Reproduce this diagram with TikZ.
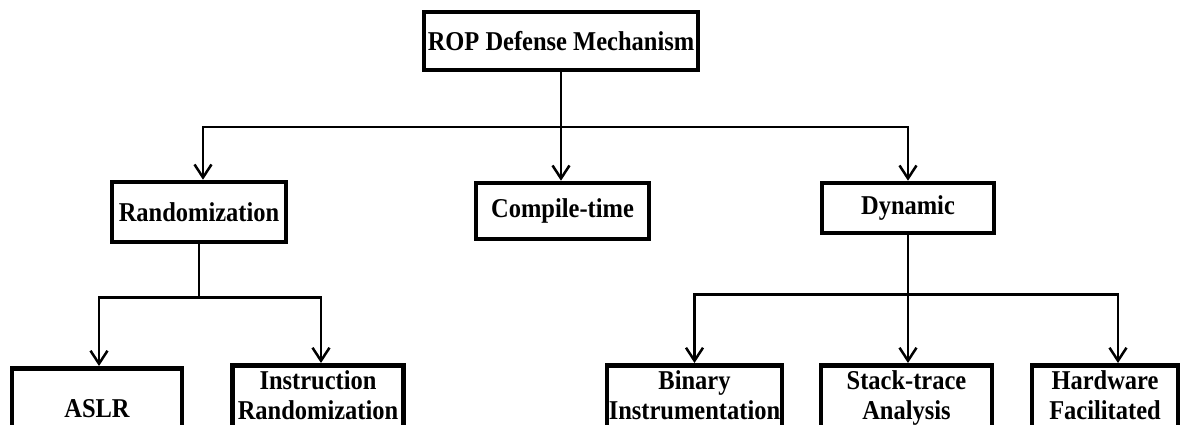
\documentclass[tikz,border=0pt]{standalone}
\usepackage{fontspec}
\setmainfont{Liberation Serif}[FakeStretch=0.9]
\usetikzlibrary{arrows.meta}
\tikzset{>={Straight Barb[length=13pt,width=17pt]}}

\begin{document}
\begin{tikzpicture}[x=1pt, y=-1pt,
  box/.style={draw, line width=4.5pt, fill=white, inner sep=0pt,
    minimum width=#1, align=center, font=\bfseries},
  leaf/.style={box=#1, minimum height=80pt, anchor=north, text depth=20pt},
  link/.style={line width=2.5pt}]

  \useasboundingbox (0,0) rectangle (1195,425);
  \clip (0,0) rectangle (1195,425);
  \fontsize{27.2}{30}\selectfont

  %% top
  \node[box=274pt, minimum height=58pt] (root) at (561,41) {ROP Defense Mechanism};

  %% second row
  \node[box=174pt, minimum height=60pt] (rand) at (199,212) {Randomization};
  \node[box=173pt, minimum height=56pt] (comp) at (562.5,211) {Compile-time};
  \node[box=172pt, minimum height=50pt] (dyn) at (908,208) {Dynamic};

  %% third row (cut at the bottom)
  \node[box=170pt, minimum height=80pt, anchor=north] (aslr) at (97,366) {ASLR};
  \node[leaf=171pt] (instr) at (318,363) {Instruction\\Randomization};
  \node[leaf=175pt] (bin) at (694.5,363) {Binary\\Instrumentation};
  \node[leaf=171pt] (stack) at (906.5,363) {Stack-trace\\Analysis};
  \node[leaf=146pt] (hw) at (1105,363) {Hardware\\Facilitated};

  \draw[link] (root.south) -- ++(0,55) coordinate (top);
  \draw[link,->] (top) -| ([xshift=4pt]rand.north);
  \draw[link,->] (top) -| (dyn.north);
  \draw[link,->] (top) -- (top |- comp.north);

  \draw[link] (rand.south) -- ++(0,53) coordinate (rbar);
  \draw[link,->] (rbar) -| ([xshift=2pt]aslr.north);
  \draw[link,->] (rbar) -| ([xshift=3pt]instr.north);

  \draw[link] (dyn.south) -- ++(0,59) coordinate (dbar);
  \draw[link,->] (dbar) -| (bin.north);
  \draw[link,->] (dbar) -- (dbar |- stack.north);
  \draw[link,->] (dbar) -| ([xshift=13pt]hw.north);
\end{tikzpicture}
\end{document}
